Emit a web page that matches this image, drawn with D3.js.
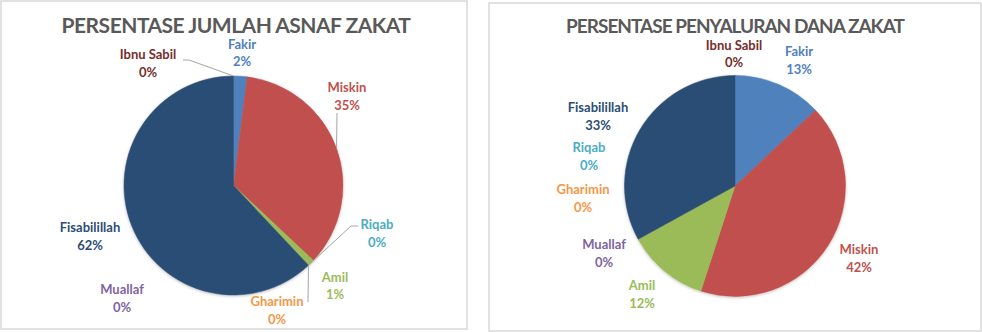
<!DOCTYPE html>
<html>
<head>
<meta charset="utf-8">
<script src="https://cdn.jsdelivr.net/npm/d3@7"></script>
<style>
  body { margin: 0; background: #fff; }
  svg { display: block; }
  text { font-family: Lato, "Open Sans", sans-serif; font-weight: bold; }
</style>
</head>
<body>
<svg id="chart" width="982" height="332"></svg>
<script>
const categories = ['Fakir', 'Miskin', 'Amil', 'Muallaf', 'Riqab', 'Gharimin', 'Fisabilillah', 'Ibnu Sabil']
const asnafValues = [2, 35, 1, 0, 0, 0, 62, 0]
const penyaluranValues = [13, 42, 12, 0, 0, 0, 33, 0]
const chartTitles = ['PERSENTASE JUMLAH ASNAF ZAKAT', 'PERSENTASE PENYALURAN DANA ZAKAT']

const sliceColours = ['#4f81bd', '#c0504d', '#9bbb59', '#8064a2', '#4bacc6', '#f79646', '#2c4d75', '#772c2a']
const titleGrey = '#595959'
const leaderGrey = '#a6a6a6'

const svg = d3.select('#chart')

// soft shadow under the pies
const shadow = svg.append('defs').append('filter')
    .attr('id', 'pieShadow')
    .attr('x', '-20%').attr('y', '-20%')
    .attr('width', '140%').attr('height', '140%')
shadow.append('feDropShadow')
    .attr('dx', 0).attr('dy', 1)
    .attr('stdDeviation', 1.5)
    .attr('flood-color', '#000')
    .attr('flood-opacity', 0.25)

const colour = d3.scaleOrdinal().domain(categories).range(sliceColours)

/* label placement (offsets from pie centre, first line baseline) */
const layouts = [
  {
    box: [1, 1, 466, 328], cx: 233.5, cy: 185.5, r: 109.5,
    titleX: 236, titleY: 33, titleSize: 21, titleSpacing: -0.5,
    labels: [[8.5, -137], [113.5, -93.5], [101.5, 96], [-111.5, 108.5],
             [143.5, 43.5], [43.5, 120.5], [-143.5, 46.5], [-85.5, -126.5]],
    leaders: [
      { i: 7, via: [[-44.5, -125.5], [-50.5, -125.5]] },
      { i: 1, via: [[103.5, -72.5]] },
      { i: 4, via: [[117.5, 40.5], [124.5, 40.5]] },
      { i: 5, via: [[74.5, 116.5]] }
    ]
  },
  {
    box: [489, 3, 492, 328], cx: 735, cy: 186, r: 110.5,
    titleX: 735, titleY: 33, titleSize: 19, titleSpacing: -1,
    labels: [[64, -130], [124, 68], [-93, 104], [-131, 63],
             [-146, -34], [-152, 8], [-137, -74], [-1, -136.5]],
    leaders: []
  }
]

function drawPie (values, title, layout) {
  const g = svg.append('g')
  const total = d3.sum(values)

  // chart area border
  g.append('rect')
      .attr('x', layout.box[0])
      .attr('y', layout.box[1])
      .attr('width', layout.box[2])
      .attr('height', layout.box[3])
      .attr('fill', '#fff')
      .attr('stroke', '#d9d9d9')
      .attr('stroke-width', 1.5)

  g.append('text')
      .attr('x', layout.titleX)
      .attr('y', layout.titleY)
      .attr('text-anchor', 'middle')
      .attr('font-size', layout.titleSize)
      .attr('letter-spacing', layout.titleSpacing)
      .attr('fill', titleGrey)
      .text(title)

  const pie = d3.pie().sort(null).value(d => d.value)
  const arcs = pie(categories.map((c, i) => ({ name: c, value: values[i] })))
  const arc = d3.arc().innerRadius(0).outerRadius(layout.r)

  const pg = g.append('g')
      .attr('transform', `translate(${layout.cx},${layout.cy})`)

  pg.append('g')
      .attr('filter', 'url(#pieShadow)')
    .selectAll('path')
    .data(arcs.filter(d => d.value > 0))
    .join('path')
      .attr('d', arc)
      .attr('fill', d => colour(d.data.name))
      .attr('stroke', d => colour(d.data.name))
      .attr('stroke-width', 0.5)

  // leader lines
  layout.leaders.forEach(l => {
    const a = arcs[l.i]
    const mid = (a.startAngle + a.endAngle) / 2
    const start = [layout.r * Math.sin(mid), -layout.r * Math.cos(mid)]
    pg.append('path')
        .attr('d', d3.line()([start, ...l.via]))
        .attr('fill', 'none')
        .attr('stroke', leaderGrey)
        .attr('stroke-width', 1)
  })

  // data labels
  arcs.forEach((a, i) => {
    const t = pg.append('text')
        .attr('x', layout.labels[i][0])
        .attr('y', layout.labels[i][1])
        .attr('text-anchor', 'middle')
        .attr('font-size', 13)
        .attr('fill', colour(a.data.name))
    t.append('tspan')
        .attr('x', layout.labels[i][0])
        .text(a.data.name)
    t.append('tspan')
        .attr('x', layout.labels[i][0])
        .attr('dy', 17.5)
        .text(Math.round(a.value / total * 100) + '%')
  })
}

drawPie(asnafValues, chartTitles[0], layouts[0])
drawPie(penyaluranValues, chartTitles[1], layouts[1])
</script>
</body>
</html>
